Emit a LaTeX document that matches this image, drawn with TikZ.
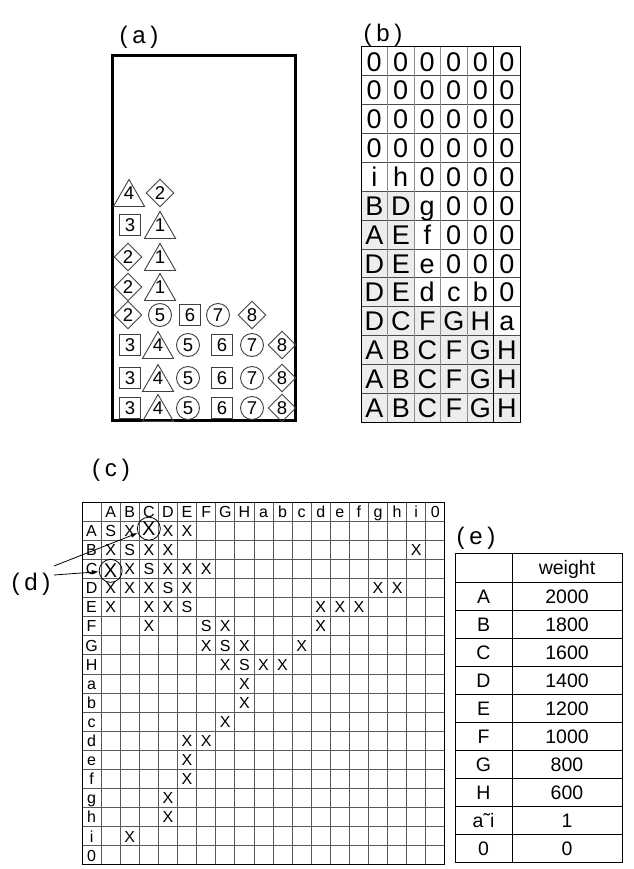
\documentclass[tikz,border=0pt]{standalone}
\usepackage{fontspec}
\setmainfont{Liberation Sans}
\usetikzlibrary{arrows.meta, shapes.geometric, calc}

\newcommand{\liftnum}[1]{\raisebox{4.5pt}[\height][\depth]{#1}}
\newcommand{\paren}[1]{(\hspace{0.2em}#1\hspace{0.2em})}

\begin{document}
\begin{tikzpicture}[
    x=1pt, y=-1pt,
    tag/.style={font=\fontsize{24}{27}\selectfont, inner sep=0pt},
    piece/.style={draw=black!75, line width=0.9pt, inner sep=0pt, font=\fontsize{18.5}{21}\selectfont},
    sq/.style={piece, rectangle, minimum size=21pt},
    circ/.style={piece, circle, minimum size=23pt},
    dia/.style={piece, diamond, minimum size=28pt},
    tri/.style={piece, regular polygon, regular polygon sides=3, minimum size=29pt},
    bcell/.style={inner sep=0pt, font=\fontsize{27}{30}\selectfont, text height=19.3pt, text depth=0pt},
    ccell/.style={inner sep=0pt, font=\fontsize{16}{18}\selectfont, text height=11.5pt, text depth=0pt},
    ecell/.style={inner sep=0pt, font=\fontsize{19.5}{22}\selectfont, text height=14pt, text depth=0pt},
    ring/.style={circle, draw=black, line width=0.8pt, minimum size=23pt, inner sep=0pt, font=\fontsize{20}{22}\selectfont},
    thinline/.style={draw=black!65, line width=0.8pt},
    pointer/.style={-{Latex[length=7pt,width=4.5pt]}, line width=0.8pt}
]
\useasboundingbox (0,0) rectangle (633,869);

% labels
\node[tag] (la) at (139,37) {\paren{a}};
\node[tag] (lb) at (383,35) {\paren{b}};
\node[tag] (lc) at (111,470) {\paren{c}};
\node[tag] (ld) at (31,584) {\paren{d}};
\node[tag] (le) at (476,538) {\paren{e}};

% (a) container
\draw[line width=3pt] (112,56) rectangle (295,420);

% (a) three full rows at the bottom
\foreach \y [count=\k] in {345,378,408} {
    \node[sq] (p\k-1) at (130,\y) {3};
    \node[tri] (p\k-2) at (158,\y+4.5) {\liftnum{4}};
    \node[circ] (p\k-3) at (188,\y) {5};
    \node[sq] (p\k-4) at (222,\y) {6};
    \node[circ] (p\k-5) at (252,\y) {7};
    \node[dia] (p\k-6) at (282,\y) {8};
}

% (a) upper rows
\node[dia] (q1-1) at (128,315) {2};
\node[circ] (q1-2) at (160,315) {5};
\node[sq] (q1-3) at (190,315) {6};
\node[circ] (q1-4) at (218,315) {7};
\node[dia] (q1-5) at (252,315) {8};

\node[dia] (q2-1) at (128,287) {2};
\node[tri] (q2-2) at (160,291.5) {\liftnum{1}};
\node[dia] (q3-1) at (128,257) {2};
\node[tri] (q3-2) at (160,261.5) {\liftnum{1}};
\node[sq] (q4-1) at (130,225) {3};
\node[tri] (q4-2) at (160,229.5) {\liftnum{1}};
\node[tri] (q5-1) at (129,197.5) {\liftnum{4}};
\node[dia] (q5-2) at (160,193) {2};

% (b) grid
\def\bx{361} \def\by{47} \def\bw{26.5} \def\bh{28.85}
\fill[black!7] (\bx,{\by+5*\bh}) rectangle ({\bx+2*\bw},{\by+9*\bh});
\fill[black!7] (\bx,{\by+9*\bh}) rectangle ({\bx+5*\bw},{\by+10*\bh});
\fill[black!7] (\bx,{\by+10*\bh}) rectangle ({\bx+6*\bw},{\by+13*\bh});
\foreach \j in {1,...,12}
    \draw[black!70, line width=0.9pt] (\bx,{\by+\j*\bh}) -- ({\bx+6*\bw},{\by+\j*\bh});
\foreach \i in {1,...,4}
    \draw[black!45, line width=0.9pt] ({\bx+\i*\bw},\by) -- ({\bx+\i*\bw},{\by+13*\bh});
\draw[line width=1.3pt] ({\bx+5*\bw},\by) -- ({\bx+5*\bw},{\by+13*\bh});
\draw[line width=1pt] (\bx,\by) rectangle ({\bx+6*\bw},{\by+13*\bh});

\foreach \row [count=\j] in {{0,0,0,0,0,0},{0,0,0,0,0,0},{0,0,0,0,0,0},{0,0,0,0,0,0},
    {i,h,0,0,0,0},{B,D,g,0,0,0},{A,E,f,0,0,0},{D,E,e,0,0,0},{D,E,d,c,b,0},
    {D,C,F,G,H,a},{A,B,C,F,G,H},{A,B,C,F,G,H},{A,B,C,F,G,H}} {
    \foreach \lbl [count=\i] in \row
        \node[bcell] (b\j-\i) at ({\bx+(\i-0.5)*\bw},{\by+(\j-0.5)*\bh}) {\lbl};
}

% (c) matrix
\def\cx{82} \def\cy{502} \def\cw{19.1}
\foreach \i in {1,...,18} {
    \draw[thinline] ({\cx+\i*\cw},\cy) -- ({\cx+\i*\cw},{\cy+19*\cw});
    \draw[thinline] (\cx,{\cy+\i*\cw}) -- ({\cx+19*\cw},{\cy+\i*\cw});
}
\draw[line width=1pt] (\cx,\cy) rectangle ({\cx+19*\cw},{\cy+19*\cw});

\foreach \lbl [count=\i] in {A,B,C,D,E,F,G,H,a,b,c,d,e,f,g,h,i,0} {
    \node[ccell] (ch\i) at ({\cx+(\i+0.5)*\cw},{\cy+0.5*\cw}) {\lbl};
    \node[ccell] (rh\i) at ({\cx+0.5*\cw},{\cy+(\i+0.5)*\cw}) {\lbl};
}

\foreach \i/\j/\lbl in {1/1/S,2/1/X,4/1/X,5/1/X,
    1/2/X,2/2/S,3/2/X,4/2/X,17/2/X,
    2/3/X,3/3/S,4/3/X,5/3/X,6/3/X,
    1/4/X,2/4/X,3/4/X,4/4/S,5/4/X,15/4/X,16/4/X,
    1/5/X,3/5/X,4/5/X,5/5/S,12/5/X,13/5/X,14/5/X,
    3/6/X,6/6/S,7/6/X,12/6/X,
    6/7/X,7/7/S,8/7/X,11/7/X,
    7/8/X,8/8/S,9/8/X,10/8/X,
    8/9/X,8/10/X,7/11/X,5/12/X,6/12/X,5/13/X,5/14/X,4/15/X,4/16/X,2/17/X}
    \node[ccell] (m\j-\i) at ({\cx+(\i+0.5)*\cw},{\cy+(\j+0.5)*\cw}) {\lbl};

% circled entries
\node[ring] (xAC) at ({\cx+3.5*\cw},{\cy+1.5*\cw-2}) {X};
\node[ring] (xCA) at ({\cx+1.5*\cw},{\cy+3.5*\cw+2}) {X};

% (d) pointers
\coordinate (d1) at (54,566);
\coordinate (d2) at (54,575);
\draw[pointer] (d1) -- (xAC);
\draw[pointer] (d2) -- (xCA);

% (e) weights
\draw[line width=1pt] (455,553) rectangle (622,862);
\draw[line width=0.9pt] (512,553) -- (512,862);
\foreach \k in {0,...,9}
    \draw[line width=0.9pt] (455,{582+\k*28}) -- (622,{582+\k*28});
\node[ecell] (wt) at (567,567.5) {weight};
\foreach \nm/\val [count=\k] in {A/2000,B/1800,C/1600,D/1400,E/1200,F/1000,G/800,H/600,a˜i/1,0/0} {
    \node[ecell] (en\k) at (483.5,{582+(\k-0.5)*28}) {\nm};
    \node[ecell] (ev\k) at (567,{582+(\k-0.5)*28}) {\val};
}

\end{tikzpicture}
\end{document}
